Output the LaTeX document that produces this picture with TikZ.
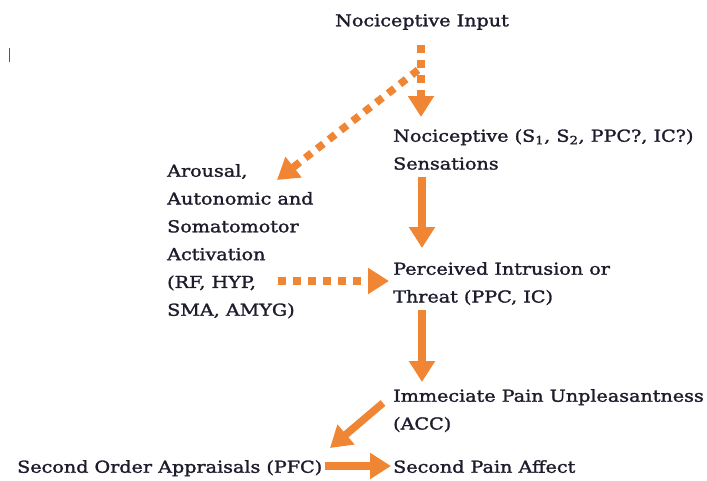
\documentclass[tikz,border=0pt]{standalone}
\usepackage{fontspec}
\setmainfont[FakeStretch=1.16,FakeBold=1.6]{DejaVu Serif}
\usetikzlibrary{arrows.meta}
\definecolor{arr}{RGB}{240,134,52}
\definecolor{txt}{RGB}{28,28,44}
\begin{document}
\begin{tikzpicture}[x=1pt,y=1pt,
  lbl/.style={anchor=north west,align=left,inner sep=0pt,text=txt,font=\fontsize{16.5}{27.8}\selectfont},
  solidarr/.style={draw=arr,line width=7.5pt,-{Triangle[length=21pt,width=25pt]}},
  dasharr/.style={draw=arr,line width=7.5pt,dash pattern=on 8pt off 7pt,-{Triangle[length=21pt,width=25pt]}}]
\useasboundingbox (0,0) rectangle (707,-480);
\draw[gray!60!blue,line width=1pt] (9,-48) -- (9,-62);
\node[lbl] (input) at (335,-14) {Nociceptive Input};
\node[lbl] (sens) at (393,-129) {Nociceptive (S\textsubscript{1}, S\textsubscript{2}, PPC?, IC?)\\Sensations};
\node[lbl] (arousal) at (167,-164) {Arousal,\\Autonomic and\\Somatomotor\\Activation\\(RF, HYP,\\SMA, AMYG)};
\node[lbl] (threat) at (393,-262) {Perceived Intrusion or\\Threat (PPC, IC)};
\node[lbl] (acc) at (393,-389) {Immeciate Pain Unpleasantness\\(ACC)};
\node[lbl] (pfc) at (17,-460) {Second Order Appraisals (PFC)};
\node[lbl] (affect) at (393,-460) {Second Pain Affect};
\coordinate (a1) at (421,-45);
\coordinate (a2) at (421,-117);
\coordinate (b1) at (418,-70);
\coordinate (b2) at (277,-180);
\coordinate (c1) at (422,-177);
\coordinate (c2) at (422,-248);
\coordinate (d1) at (278,-281);
\coordinate (d2) at (389,-281);
\coordinate (e1) at (422,-310);
\coordinate (e2) at (422,-382);
\coordinate (f1) at (383,-403);
\coordinate (f2) at (330,-448);
\coordinate (g1) at (325,-466);
\coordinate (g2) at (391,-466);
\draw[dasharr] (a1) -- (a2);
\draw[dasharr] (b1) -- (b2);
\draw[solidarr] (c1) -- (c2);
\draw[dasharr] (d1) -- (d2);
\draw[solidarr] (e1) -- (e2);
\draw[solidarr] (f1) -- (f2);
\draw[solidarr] (g1) -- (g2);
\end{tikzpicture}
\end{document}
